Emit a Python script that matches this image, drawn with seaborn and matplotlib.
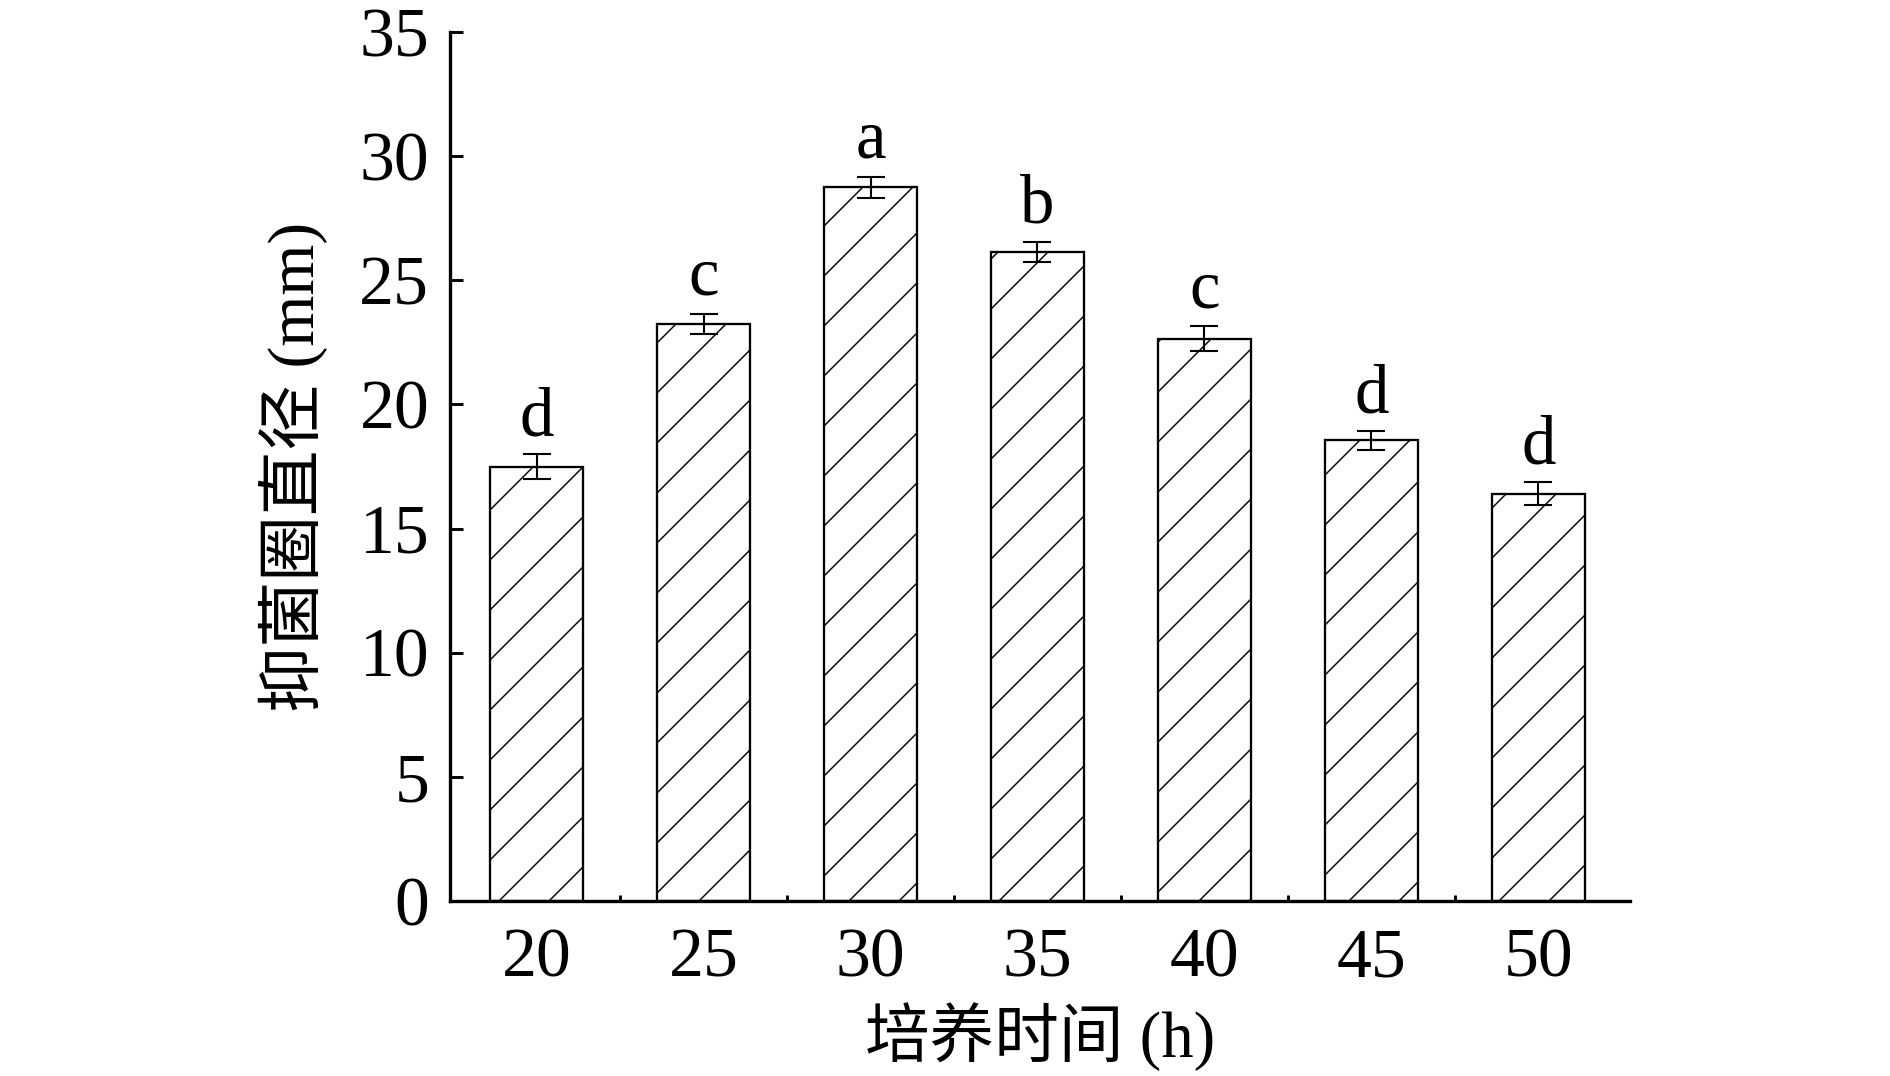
import matplotlib
matplotlib.use("Agg")
import matplotlib.pyplot as plt
import seaborn as sns
import pandas as pd
import numpy as np

# Data
times = ["20", "25", "30", "35", "40", "45", "50"]
diameters = [17.5, 23.25, 28.75, 26.15, 22.65, 18.55, 16.4]
errors = [0.5, 0.41, 0.43, 0.41, 0.5, 0.38, 0.46]
letters = ["d", "c", "a", "b", "c", "d", "d"]
y_ticks = [0, 5, 10, 15, 20, 25, 30, 35]
x_label = "培养时间 (h)"
y_label = "抑菌圈直径 (mm)"

sns.set_theme(style="white")
plt.rcParams['font.family'] = ['Liberation Serif', 'Noto Sans CJK SC']
plt.rcParams['hatch.linewidth'] = 0.7
plt.rcParams['hatch.color'] = 'black'
plt.rcParams['axes.unicode_minus'] = False

DPI = 150
fig = plt.figure(figsize=(1890 / DPI, 1076 / DPI), dpi=DPI)
ax = fig.add_axes([450 / 1890, 1 - 901 / 1076, 1180 / 1890, (901 - 32) / 1076])

df = pd.DataFrame({"time": times, "d": diameters})
sns.barplot(data=df, x="time", y="d", ax=ax, color="white", edgecolor="black",
            linewidth=1.1, width=93 / 167, hatch="/", errorbar=None, saturation=1)
for p in ax.patches:
    p.set_facecolor("white")
    p.set_edgecolor("black")
    p.set_hatch("/")

pos = np.arange(len(times))
ax.errorbar(pos, diameters, yerr=errors, fmt="none", ecolor="black",
            elinewidth=1.0, capsize=6.5, capthick=1.0, zorder=5)

for i, (v, e, lab) in enumerate(zip(diameters, errors, letters)):
    ax.annotate(lab, xy=(i, v + e), xytext=(0, 9), textcoords="offset points",
                ha="center", va="baseline", fontsize=33, color="black")

ax.set_xlim(-0.52, 6.55)
ax.set_ylim(0, 35)
ax.set_yticks(y_ticks)
ax.set_yticklabels([str(t) for t in y_ticks])

sns.despine(ax=ax, top=True, right=True)
for s in ["left", "bottom"]:
    ax.spines[s].set_linewidth(1.6)
    ax.spines[s].set_color("black")

ax.tick_params(axis="y", direction="in", length=6, width=1.4, labelsize=33.5,
               pad=10, colors="black", left=True)
ax.set_xticks(pos)
ax.set_xticklabels(times)
ax.tick_params(axis="x", which="major", length=0, labelsize=33.5, pad=13,
               colors="black")
ax.set_xticks(np.arange(0.5, len(times) - 1, 1.0), minor=True)
ax.tick_params(axis="x", which="minor", direction="in", length=3, width=1.4,
               bottom=True, colors="black")

ax.set_xlabel(x_label, fontsize=31, labelpad=5, color="black")
ax.set_ylabel(y_label, fontsize=31.5, labelpad=15, color="black")

fig.savefig("out.png", dpi=DPI, facecolor="white")
